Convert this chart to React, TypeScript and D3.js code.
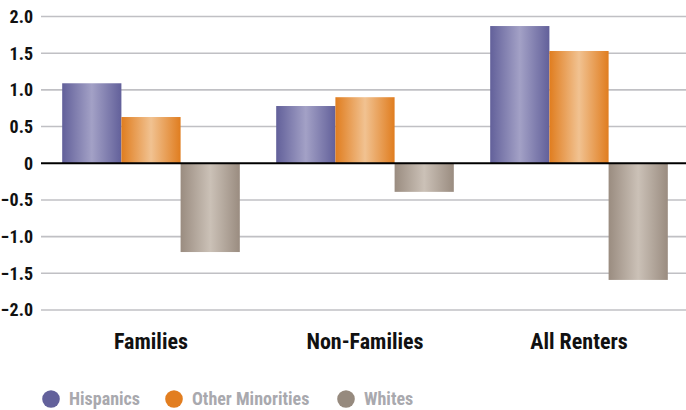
import React from "react";
import * as d3 from "d3";

const categories = ["Families", "Non-Families", "All Renters"];
const seriesNames = ["Hispanics", "Other Minorities", "Whites"];
const hispanics = [1.09, 0.78, 1.87];
const otherMinorities = [0.63, 0.9, 1.53];
const whites = [-1.21, -0.39, -1.59];
const yTicks = [2.0, 1.5, 1.0, 0.5, 0, -0.5, -1.0, -1.5, -2.0];

const seriesValues = [hispanics, otherMinorities, whites];
const gradStops = [
  { edge: "#62609a", mid: "#a3a1c6" },
  { edge: "#e07d1f", mid: "#f1c291" },
  { edge: "#9a8c80", mid: "#cbc1b7" },
];
const legendColors = ["#63619b", "#e27e20", "#968a7e"];

const W = 686;
const H = 410;
const FONT = "'Liberation Sans Narrow', 'Arial Narrow', 'Roboto Condensed', 'Liberation Sans', sans-serif";

export default function App() {
  const y = d3.scaleLinear().domain([-2, 2]).range([310, 16.5]);
  const x0 = d3
    .scaleBand<string>()
    .domain(categories)
    .range([44, 686])
    .paddingInner(0.17)
    .paddingOuter(0.085);
  const x1 = d3
    .scaleBand<string>()
    .domain(seriesNames)
    .range([0, x0.bandwidth()])
    .padding(0);
  const gridLeft = 41;

  const legendX = [51, 174, 346];

  return (
    <svg
      width={W}
      height={H}
      style={{ position: "absolute", left: 0, top: 0, display: "block" }}
      fontFamily={FONT}
    >
      <defs>
        {gradStops.map((g, i) => (
          <linearGradient key={i} id={`grad${i}`} x1="0" x2="1" y1="0" y2="0">
            <stop offset="0%" stopColor={g.edge} />
            <stop offset="50%" stopColor={g.mid} />
            <stop offset="100%" stopColor={g.edge} />
          </linearGradient>
        ))}
      </defs>
      {yTicks.map((t) => (
        <g key={t}>
          {t !== 0 && (
            <line
              x1={gridLeft}
              x2={W}
              y1={y(t)}
              y2={y(t)}
              stroke="#c0c0c4"
              strokeWidth={1.6}
            />
          )}
          <text
            x={33}
            y={y(t)}
            dy="0.36em"
            textAnchor="end"
            fontSize={18}
            fontWeight="bold"
            fill="#111"
          >
            {t === 0 ? "0" : d3.format(".1f")(t)}
          </text>
        </g>
      ))}
      {categories.map((c, ci) => (
        <g key={c}>
          {seriesNames.map((s, si) => {
            const v = seriesValues[si][ci];
            const bx = (x0(c) ?? 0) + (x1(s) ?? 0);
            return (
              <rect
                key={s}
                x={bx}
                width={x1.bandwidth()}
                y={Math.min(y(v), y(0))}
                height={Math.abs(y(v) - y(0))}
                fill={`url(#grad${si})`}
              />
            );
          })}
          <text
            x={(x0(c) ?? 0) + x0.bandwidth() / 2}
            y={349}
            textAnchor="middle"
            fontSize={22}
            fontWeight="bold"
            fill="#111"
          >
            {c}
          </text>
        </g>
      ))}
      <line x1={gridLeft} x2={W} y1={y(0)} y2={y(0)} stroke="#000" strokeWidth={2} />
      {seriesNames.map((s, i) => (
        <g key={s}>
          <circle cx={legendX[i]} cy={399} r={8.8} fill={legendColors[i]} />
          <text
            x={legendX[i] + 18}
            y={399}
            dy="0.36em"
            fontSize={18}
            fontWeight="bold"
            fill="#a9a9ae"
          >
            {s}
          </text>
        </g>
      ))}
    </svg>
  );
}
